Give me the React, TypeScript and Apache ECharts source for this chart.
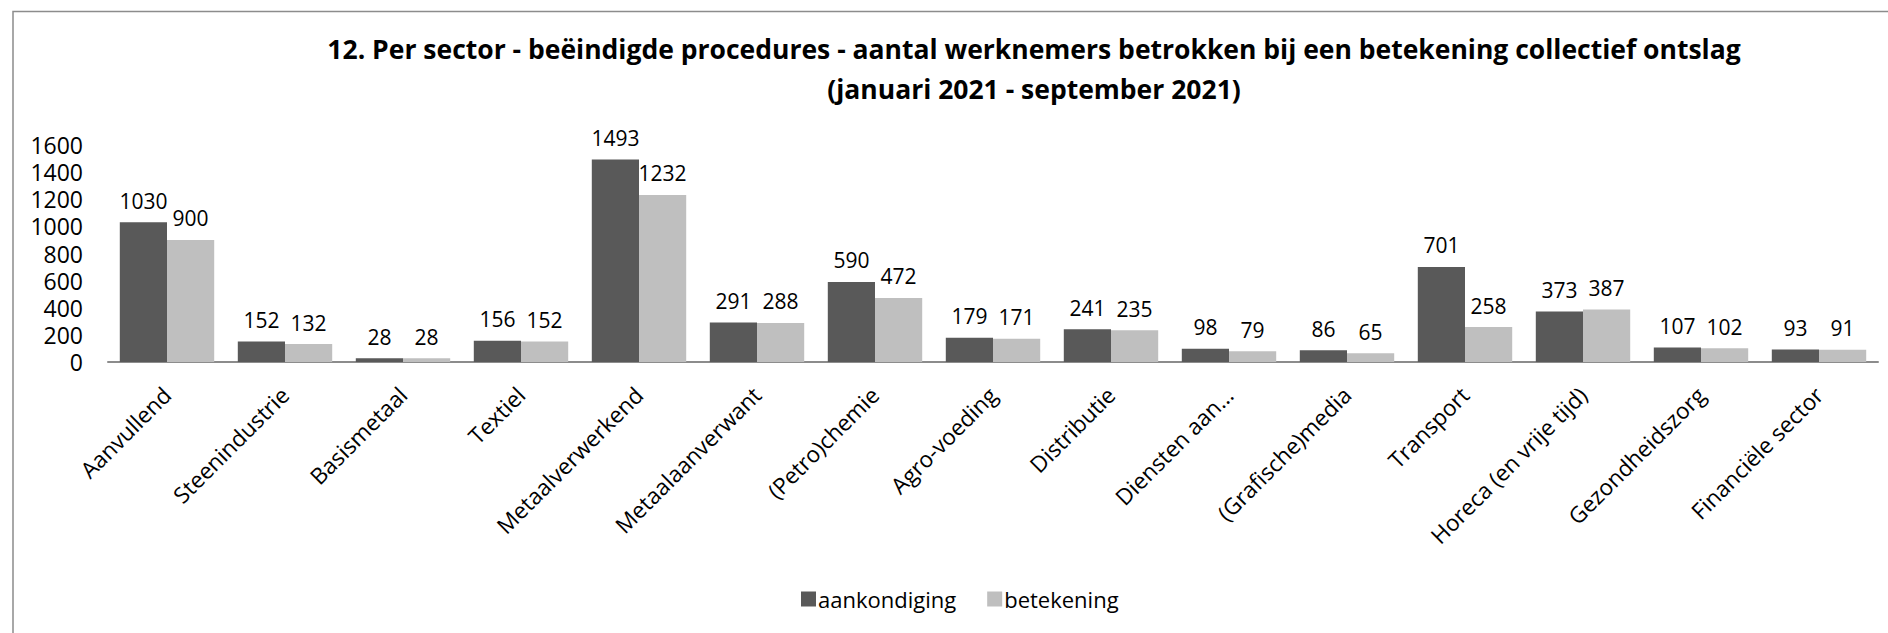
import React, { useEffect, useRef } from "react";
import * as echarts from "echarts";

const categories = [
  "Aanvullend",
  "Steenindustrie",
  "Basismetaal",
  "Textiel",
  "Metaalverwerkend",
  "Metaalaanverwant",
  "(Petro)chemie",
  "Agro-voeding",
  "Distributie",
  "Diensten aan…",
  "(Grafische)media",
  "Transport",
  "Horeca (en vrije tijd)",
  "Gezondheidszorg",
  "Financiële sector",
];
const aankondiging = [1030, 152, 28, 156, 1493, 291, 590, 179, 241, 98, 86, 701, 373, 107, 93];
const betekening = [900, 132, 28, 152, 1232, 288, 472, 171, 235, 79, 65, 258, 387, 102, 91];
const seriesNames = ["aankondiging", "betekening"];
const titleLine1 =
  "12. Per sector - beëindigde procedures - aantal werknemers betrokken bij een betekening collectief ontslag";
const titleLine2 = "(januari 2021 - september 2021)";

const FONT = "'Open Sans', 'Segoe UI', sans-serif";

export default function App() {
  const ref = useRef<HTMLDivElement>(null);
  useEffect(() => {
    if (!ref.current) return;
    const chart = echarts.init(ref.current, null, { renderer: "svg" });
    const label = {
      show: true,
      position: "top",
      distance: 11,
      fontSize: 21,
      fontFamily: FONT,
      color: "#000",
    };
    chart.setOption({
      animation: false,
      backgroundColor: "#fff",
      textStyle: { fontFamily: FONT },
      graphic: [
        {
          type: "polyline",
          shape: { points: [[13, 640], [13, 11.5], [1895, 11.5]] },
          style: { stroke: "#8c8c8c", lineWidth: 1.5, fill: "none" },
        },
        {
          type: "text",
          x: 1034,
          y: 49,
          style: {
            text: titleLine1,
            align: "center",
            verticalAlign: "middle",
            fontSize: 26.5,
            fontWeight: "bold",
            fontFamily: FONT,
            fill: "#000",
          },
        },
        {
          type: "text",
          x: 1034,
          y: 89,
          style: {
            text: titleLine2,
            align: "center",
            verticalAlign: "middle",
            fontSize: 26.5,
            fontWeight: "bold",
            fontFamily: FONT,
            fill: "#000",
          },
        },
      ],
      legend: {
        left: 796,
        top: 583,
        itemWidth: 15,
        itemHeight: 15,
        itemGap: 31,
        icon: "rect",
        textStyle: { fontSize: 22, fontFamily: FONT, color: "#000", padding: [0, 0, 0, -3] },
        data: seriesNames,
      },
      grid: { left: 108, right: 10, top: 145, height: 217, containLabel: false },
      xAxis: {
        type: "category",
        data: categories,
        axisLine: { show: true, lineStyle: { color: "#8c8c8c", width: 2 } },
        axisTick: { show: false },
        axisLabel: {
          interval: 0,
          rotate: 45,
          margin: 29,
          fontSize: 22.5,
          fontFamily: FONT,
          color: "#000",
        },
      },
      yAxis: {
        type: "value",
        min: 0,
        max: 1600,
        interval: 200,
        axisLine: { show: false },
        axisTick: { show: false },
        splitLine: { show: false },
        axisLabel: {
          fontSize: 23,
          lineHeight: 25,
          fontFamily: FONT,
          color: "#000",
          margin: 25,
          formatter: (v: number) => String(v),
        },
      },
      series: [
        {
          name: seriesNames[0],
          type: "bar",
          data: aankondiging,
          barGap: "0%",
          barCategoryGap: "20%",
          itemStyle: { color: "#595959" },
          label,
        },
        {
          name: seriesNames[1],
          type: "bar",
          data: betekening,
          barGap: "0%",
          barCategoryGap: "20%",
          itemStyle: { color: "#bfbfbf" },
          label,
        },
      ],
    });
    return () => chart.dispose();
  }, []);
  return (
    <div
      ref={ref}
      style={{ position: "fixed", left: 0, top: 0, width: 1888, height: 633, background: "#fff" }}
    />
  );
}
